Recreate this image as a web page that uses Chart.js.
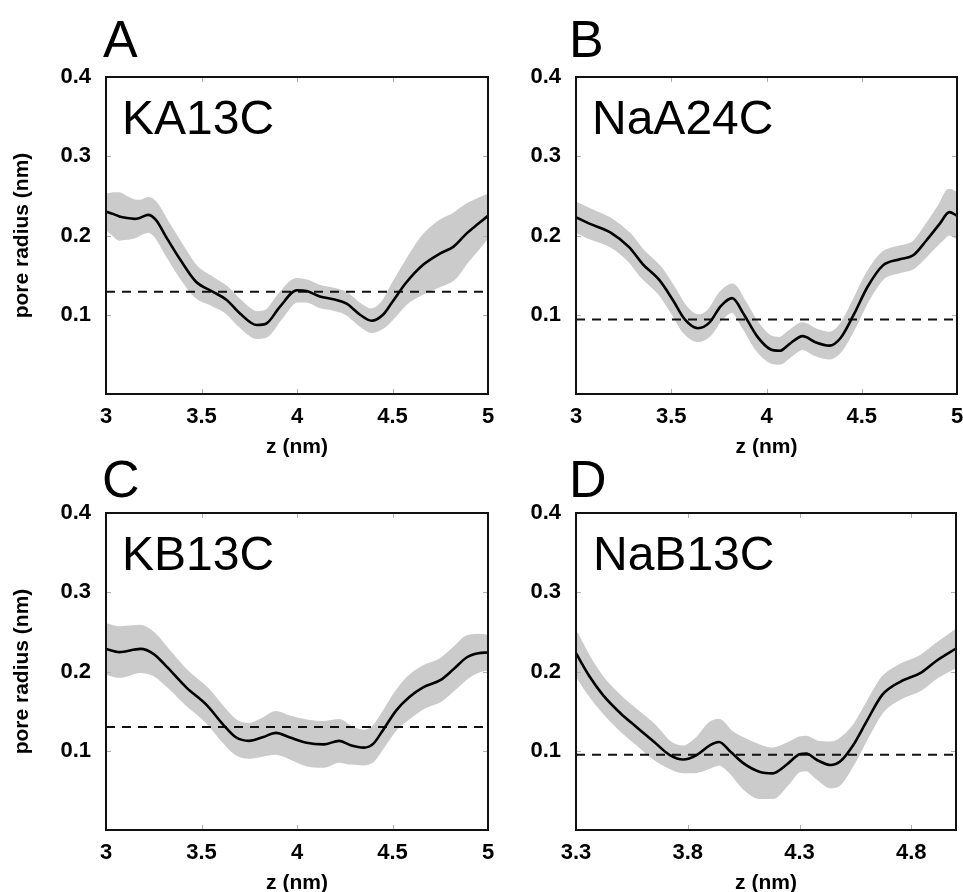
<!DOCTYPE html>
<html>
<head>
<meta charset="utf-8">
<script src="https://cdn.jsdelivr.net/npm/chart.js@4.4.0/dist/chart.umd.min.js"></script>
<style>
html,body{margin:0;padding:0;background:#fff;overflow:hidden;width:963px;height:892px;}
canvas{position:absolute;}
.lbl{position:absolute;font-family:"Liberation Sans",Arial,Helvetica,sans-serif;color:#000;line-height:1;white-space:nowrap;}
.letter{font-size:52px;}
.name{font-size:48px;}
</style>
</head>
<body>
<canvas id="cA" width="500" height="460" style="left:0px;top:0px"></canvas>
<canvas id="cB" width="480" height="460" style="left:490px;top:0px"></canvas>
<canvas id="cC" width="500" height="460" style="left:0px;top:436px"></canvas>
<canvas id="cD" width="480" height="460" style="left:490px;top:436px"></canvas>

<div class="lbl letter" style="left:103px;top:13px">A</div>
<div class="lbl letter" style="left:569px;top:13px">B</div>
<div class="lbl letter" style="left:102px;top:453px">C</div>
<div class="lbl letter" style="left:569px;top:453px">D</div>
<div class="lbl name" style="left:122px;top:94px">KA13C</div>
<div class="lbl name" style="left:592px;top:94px">NaA24C</div>
<div class="lbl name" style="left:122px;top:530px">KB13C</div>
<div class="lbl name" style="left:593px;top:530px">NaB13C</div>

<script>
// ---------- data ----------
const yTicks = [0.1, 0.2, 0.3, 0.4];
const xTicksABC = [3, 3.5, 4, 4.5, 5];
const xTicksD = [3.3, 3.8, 4.3, 4.8];

// Panel A: KA13C
const zA = [3.00,3.04,3.07,3.11,3.15,3.18,3.22,3.26,3.32,3.39,3.47,3.56,3.63,3.70,3.79,3.84,3.91,4.00,4.05,4.12,4.19,4.26,4.33,4.39,4.45,4.50,4.57,4.66,4.75,4.82,4.89,4.95,5.00];
const rA = [0.230,0.227,0.224,0.222,0.221,0.2225,0.226,0.220,0.196,0.169,0.142,0.129,0.119,0.102,0.087,0.089,0.110,0.131,0.130,0.123,0.1195,0.114,0.100,0.0925,0.100,0.1165,0.140,0.163,0.1775,0.186,0.203,0.215,0.225];
const eA = [0.020,0.025,0.028,0.025,0.022,0.020,0.020,0.020,0.020,0.020,0.018,0.016,0.015,0.015,0.015,0.015,0.015,0.013,0.012,0.012,0.012,0.012,0.012,0.013,0.015,0.020,0.025,0.035,0.040,0.040,0.035,0.030,0.025];
const thrA = 0.129;

// Panel B: NaA24C
const zB = [3.00,3.07,3.18,3.28,3.35,3.44,3.51,3.57,3.64,3.70,3.76,3.82,3.88,3.95,4.02,4.07,4.12,4.19,4.26,4.33,4.39,4.46,4.53,4.61,4.70,4.77,4.84,4.91,4.96,5.00];
const rB = [0.223,0.215,0.204,0.185,0.164,0.143,0.118,0.0945,0.083,0.090,0.111,0.121,0.101,0.073,0.0565,0.0545,0.063,0.073,0.065,0.061,0.071,0.101,0.135,0.162,0.170,0.175,0.194,0.215,0.2295,0.225];
const eB = [0.017,0.017,0.016,0.016,0.016,0.016,0.016,0.016,0.015,0.015,0.016,0.016,0.016,0.016,0.015,0.015,0.015,0.015,0.015,0.015,0.015,0.016,0.016,0.015,0.015,0.015,0.018,0.022,0.027,0.027];
const thrB = 0.094;

// Panel C: KB13C
const zC = [3.00,3.07,3.18,3.25,3.32,3.42,3.53,3.61,3.68,3.75,3.82,3.89,3.96,4.05,4.14,4.22,4.28,4.35,4.40,4.45,4.52,4.59,4.66,4.75,4.82,4.89,4.95,5.00];
const rC = [0.2285,0.2245,0.2285,0.222,0.2055,0.180,0.157,0.134,0.117,0.1125,0.117,0.1225,0.117,0.110,0.108,0.1125,0.107,0.104,0.109,0.126,0.151,0.168,0.180,0.189,0.203,0.218,0.223,0.224];
const eC = [0.030,0.030,0.028,0.025,0.022,0.020,0.020,0.020,0.020,0.020,0.022,0.025,0.025,0.027,0.027,0.025,0.022,0.020,0.020,0.020,0.022,0.025,0.025,0.025,0.025,0.025,0.022,0.020];
const thrC = 0.130;

// Panel D: NaB13C
const zD = [3.30,3.36,3.42,3.50,3.57,3.65,3.72,3.78,3.84,3.90,3.94,3.99,4.05,4.12,4.18,4.24,4.30,4.33,4.38,4.44,4.48,4.54,4.60,4.67,4.75,4.84,4.91,5.00];
const rD = [0.223,0.194,0.1705,0.147,0.130,0.111,0.0945,0.089,0.0945,0.107,0.111,0.099,0.084,0.0735,0.0715,0.082,0.0955,0.0965,0.088,0.082,0.086,0.107,0.137,0.1705,0.187,0.198,0.213,0.229];
const eD = [0.025,0.022,0.020,0.020,0.020,0.020,0.015,0.015,0.020,0.027,0.027,0.025,0.030,0.032,0.030,0.025,0.020,0.020,0.022,0.027,0.027,0.022,0.020,0.020,0.020,0.020,0.020,0.022];
const thrD = 0.095;

// ---------- drawing ----------
const FONT = '"Liberation Sans", Arial, Helvetica, sans-serif';
Chart.defaults.color = '#000';
Chart.defaults.font.family = FONT;

const boxPlugin = {
  id: 'box',
  afterDraw(chart) {
    const {ctx, chartArea: a, scales} = chart;
    ctx.save();
    ctx.strokeStyle = '#b0b0b0';
    ctx.lineWidth = 1;
    ctx.beginPath();
    scales.x.ticks.forEach(t => {
      const px = Math.round(scales.x.getPixelForValue(t.value)) + 0.5;
      ctx.moveTo(px, a.bottom); ctx.lineTo(px, a.bottom - 5);
      ctx.moveTo(px, a.top); ctx.lineTo(px, a.top + 5);
    });
    scales.y.ticks.forEach(t => {
      const py = Math.round(scales.y.getPixelForValue(t.value)) + 0.5;
      ctx.moveTo(a.left, py); ctx.lineTo(a.left + 5, py);
      ctx.moveTo(a.right, py); ctx.lineTo(a.right - 5, py);
    });
    ctx.stroke();
    ctx.strokeStyle = '#111';
    ctx.lineWidth = 2;
    ctx.strokeRect(a.left, a.top, a.right - a.left, a.bottom - a.top);
    ctx.restore();
  }
};

function makePanel(id, z, r, e, thr, xMin, xMax, xTicks, showYTitle, yWidth, rightPad) {
  const mean = z.map((v, i) => ({x: v, y: r[i]}));
  const upper = z.map((v, i) => ({x: v, y: r[i] + e[i]}));
  const lower = z.map((v, i) => ({x: v, y: r[i] - e[i]}));
  const dash = [{x: xMin, y: thr}, {x: xMax, y: thr}];
  new Chart(document.getElementById(id), {
    type: 'line',
    data: {
      datasets: [
        {data: mean, borderColor: '#000', borderWidth: 2.6, pointRadius: 0, cubicInterpolationMode: 'monotone', fill: false},
        {data: dash, borderColor: '#111', borderWidth: 2, borderDash: [9, 7], pointRadius: 0, fill: false},
        {data: upper, borderColor: '#cbcbcb', borderWidth: 4, pointRadius: 0, cubicInterpolationMode: 'monotone', fill: '+1', backgroundColor: '#cbcbcb'},
        {data: lower, borderColor: '#cbcbcb', borderWidth: 4, pointRadius: 0, cubicInterpolationMode: 'monotone', fill: false}
      ]
    },
    options: {
      responsive: false,
      animation: false,
      events: [],
      layout: {autoPadding: false, padding: {top: 77, right: rightPad, bottom: 0, left: 0}},
      plugins: {legend: {display: false}, tooltip: {enabled: false}},
      scales: {
        x: {
          type: 'linear', min: xMin, max: xMax,
          grid: {display: false, drawTicks: false, tickLength: 0}, border: {display: false},
          afterBuildTicks: s => { s.ticks = xTicks.map(v => ({value: v})); },
          afterFit: s => { s.height = 66; s.paddingLeft = 0; s.paddingRight = 0; },
          ticks: {padding: 10, maxRotation: 0, autoSkip: false, font: {size: 22, weight: 'bold'}, callback: v => String(v)},
          title: {display: true, text: 'z (nm)', font: {size: 21, weight: 'bold'}, padding: {top: 0, bottom: 0}}
        },
        y: {
          type: 'linear', min: 0, max: 0.4,
          grid: {display: false, drawTicks: false, tickLength: 0}, border: {display: false},
          afterBuildTicks: s => { s.ticks = yTicks.map(v => ({value: v})); },
          afterFit: s => { s.width = yWidth; s.paddingTop = 0; s.paddingBottom = 0; },
          ticks: {padding: 15, font: {size: 22, weight: 'bold'}, callback: v => String(v)},
          title: {display: showYTitle, text: 'pore radius (nm)', font: {size: 21, weight: 'bold'}, padding: {top: 10, bottom: 0}}
        }
      }
    },
    plugins: [boxPlugin]
  });
}

makePanel('cA', zA, rA, eA, thrA, 3, 5, xTicksABC, true, 106, 12);
makePanel('cB', zB, rB, eB, thrB, 3, 5, xTicksABC, false, 86, 13);
makePanel('cC', zC, rC, eC, thrC, 3, 5, xTicksABC, true, 106, 12);
makePanel('cD', zD, rD, eD, thrD, 3.3, 5.0, xTicksD, false, 86, 14);
</script>
</body>
</html>
